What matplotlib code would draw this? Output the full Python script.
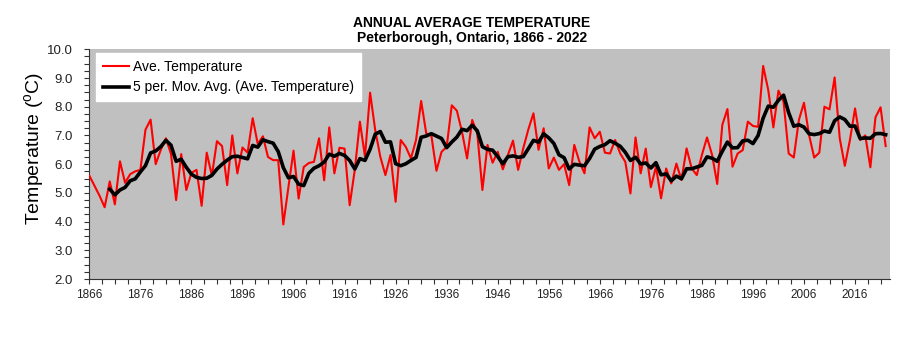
import matplotlib
matplotlib.use("Agg")
import matplotlib.pyplot as plt
from matplotlib.ticker import MultipleLocator, FixedLocator
import numpy as np
import pandas as pd

years = list(range(1866, 2023))
temps = [
    5.6, 5.25, 4.9, 4.5, 5.4, 4.6, 6.1, 5.35, 5.65, 5.75,          # 1866-1875
    5.8, 7.2, 7.55, 6.0, 6.5, 6.9, 6.35, 4.75, 6.35, 5.1,          # 1876-1885
    5.7, 5.8, 4.55, 6.4, 5.6, 6.8, 6.63, 5.27, 7.0, 5.68,          # 1886-1895
    6.58, 6.4, 7.6, 6.7, 6.97, 6.25, 6.14, 6.14, 3.9, 5.2,         # 1896-1905
    6.47, 4.8, 5.9, 6.04, 6.08, 6.9, 5.44, 7.28, 5.68, 6.57,       # 1906-1915
    6.54, 4.57, 5.8, 7.48, 6.26, 8.49, 7.19, 6.26, 5.62, 6.32,     # 1916-1925
    4.69, 6.84, 6.6, 6.2, 6.84, 8.2, 7.07, 7.0, 5.77, 6.43,        # 1926-1935
    6.6, 8.05, 7.86, 7.13, 6.2, 7.54, 7.07, 5.1, 6.67, 6.05,       # 1936-1945
    6.43, 5.82, 6.32, 6.82, 5.8, 6.55, 7.21, 7.77, 6.5, 7.25,      # 1946-1955
    5.85, 6.23, 5.8, 6.0, 5.27, 6.67, 6.09, 5.68, 7.28, 6.9,       # 1956-1965
    7.13, 6.4, 6.37, 6.84, 6.37, 6.08, 4.98, 6.93, 5.68, 6.54,     # 1966-1975
    5.2, 5.91, 4.81, 5.85, 5.33, 6.02, 5.45, 6.55, 5.85, 5.62,     # 1976-1985
    6.32, 6.93, 6.32, 5.31, 7.37, 7.92, 5.91, 6.37, 6.49, 7.48,    # 1986-1995
    7.33, 7.3, 9.42, 8.58, 7.28, 8.56, 8.17, 6.37, 6.23, 7.54,     # 1996-2005
    8.14, 7.01, 6.23, 6.4, 8.0, 7.91, 9.02, 6.9, 5.94, 6.84,       # 2006-2015
    7.94, 6.84, 7.0, 5.89, 7.63, 7.98, 6.63,                       # 2016-2022
]
assert len(temps) == len(years)

x_tick_labels = list(range(1866, 2017, 10))
series_names = ["Ave. Temperature", "5 per. Mov. Avg. (Ave. Temperature)"]

s = pd.Series(temps, index=years)
ma = s.rolling(5).mean()

plt.rcParams['font.family'] = ['Liberation Sans', 'DejaVu Sans']

fig = plt.figure(figsize=(9.2, 3.37), dpi=100)
ax = fig.add_axes([0.0971, 0.1721, 0.8703, 0.6816])
ax.set_facecolor('#C0C0C0')

ax.plot(s.index, s.values, color='#FF0000', lw=1.5, label=series_names[0], zorder=3)
ax.plot(ma.index, ma.values, color='black', lw=2.6, label=series_names[1], zorder=4)

ax.set_xlim(1866, 2022.85)
ax.set_ylim(2.0, 10.0)

ax.set_xticks(x_tick_labels)
ax.set_xticklabels([str(v) for v in x_tick_labels], fontsize=8.5, color='#222222')
ax.xaxis.set_minor_locator(FixedLocator(list(np.arange(1866, 2023, 2.5))))
ax.yaxis.set_minor_locator(MultipleLocator(0.25))
ax.set_yticks(np.arange(2.0, 10.01, 1.0))
ax.set_yticklabels([f"{v:.1f}" for v in np.arange(2.0, 10.01, 1.0)], fontsize=9.5, color='#222222')

for which in ('major', 'minor'):
    ax.tick_params(axis='both', which=which, direction='out', length=3.5, width=0.8,
                   color='#333333')
ax.tick_params(axis='x', pad=4)
ax.tick_params(axis='y', pad=8.5)

for sp in ('top', 'right'):
    ax.spines[sp].set_visible(False)
for sp in ('left', 'bottom'):
    ax.spines[sp].set_color('#333333')
    ax.spines[sp].set_linewidth(0.8)

ax.set_ylabel('Temperature ($^{\\mathregular{o}}$C)', fontsize=14)
ax.yaxis.set_label_coords(-0.053, 0.570)

leg = ax.legend(loc='upper left', bbox_to_anchor=(0.008, 0.983), borderaxespad=0,
                fontsize=10, frameon=True, fancybox=False, handlelength=1.87,
                labelspacing=0.45, handletextpad=0.3, borderpad=0.5)
leg.get_frame().set_facecolor('white')
leg.get_frame().set_edgecolor('white')
leg.get_frame().set_alpha(1)

fig.text(0.513, 0.932, 'ANNUAL AVERAGE TEMPERATURE', ha='center', va='center',
         fontsize=10, fontweight='bold')
fig.text(0.513, 0.887, 'Peterborough, Ontario, 1866 - 2022', ha='center', va='center',
         fontsize=10, fontweight='bold')

fig.savefig('out.png', dpi=100, facecolor='white')
